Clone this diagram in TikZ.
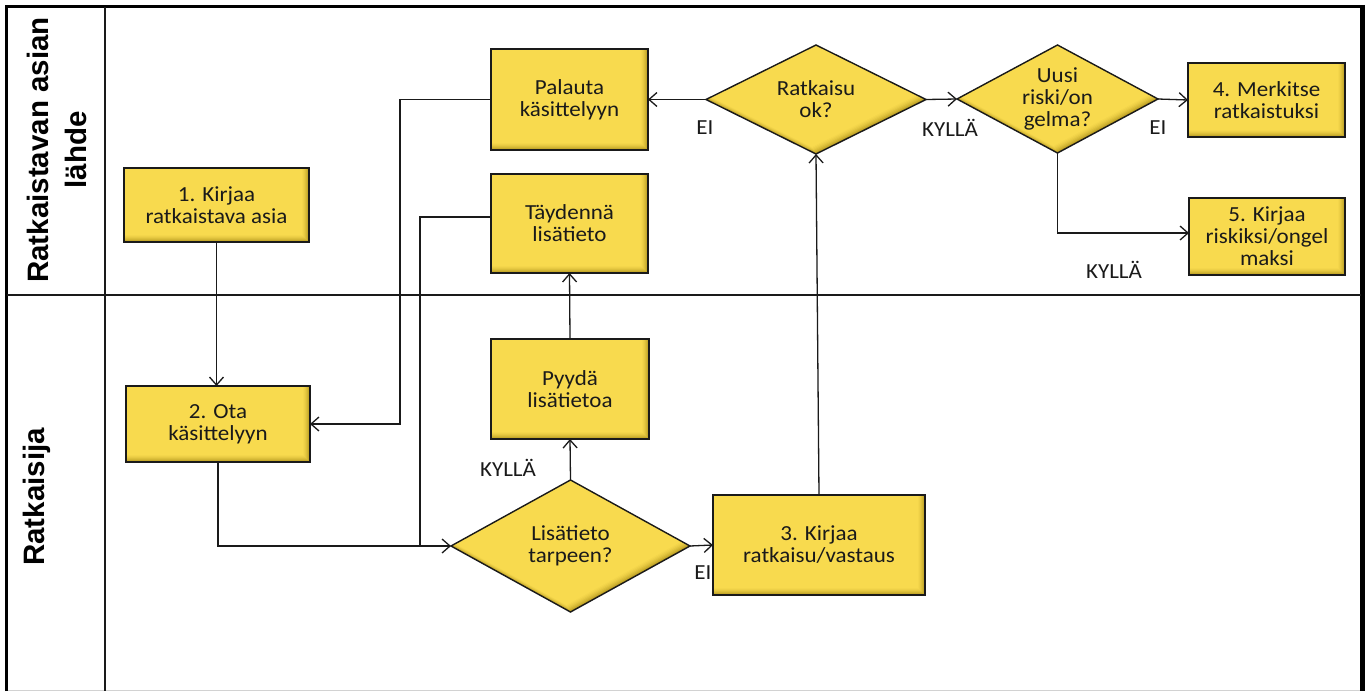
\documentclass[tikz,border=0pt]{standalone}
\usepackage{fontspec}
\usetikzlibrary{shapes.geometric,arrows.meta}
\newfontfamily\boxfont[FakeStretch=1.07]{Carlito}
\newfontfamily\lanefont{Liberation Sans}
\definecolor{boxyellow}{RGB}{248,218,78}
\definecolor{boxshade}{RGB}{176,148,28}
\definecolor{inkdark}{RGB}{26,26,26}

\tikzset{
  flowline/.style={line width=1.3pt, draw=inkdark},
  arrowline/.style={flowline, -{Straight Barb[length=8pt,width=14pt,line width=1.3pt]}},
  boxtext/.style={font=\boxfont\fontsize{21.5pt}{22pt}\selectfont, text=inkdark, align=center},
  lbl/.style={font=\boxfont\fontsize{21.5pt}{22pt}\selectfont, text=inkdark, inner sep=0pt},
  lanelbl/.style={font=\lanefont\bfseries\fontsize{29.5pt}{38pt}\selectfont, text=black, align=center, rotate=90, inner sep=0pt},
  % rectangle step with a soft inner shadow on its right and bottom edges
  stepbox/.style={
    boxtext, shape=rectangle, draw=inkdark, line width=1.4pt, fill=boxshade,
    inner sep=0pt, outer sep=0pt,
    path picture={
      \foreach \k/\m in {1/30,2/48,3/63,4/76,5/86,6/94,7/100}{
        \fill[boxyellow!\m!boxshade]
          ([yshift=\k pt]path picture bounding box.south west) rectangle
          ([xshift=-\k pt]path picture bounding box.north east);
      }
    }
  },
  % decision diamond with the same shading along its lower edges
  decision/.style={
    boxtext, shape=diamond, draw=inkdark, line width=1.4pt, fill=boxshade,
    inner sep=0pt, outer sep=0pt,
    path picture={
      \foreach \k/\m in {1/30,2/48,3/63,4/76,5/86,6/94,7/100}{
        \fill[boxyellow!\m!boxshade]
          ([xshift=-0.6*\k pt,yshift=\k pt]path picture bounding box.north) --
          ([xshift=-0.6*\k pt,yshift=\k pt]path picture bounding box.east) --
          ([xshift=-0.6*\k pt,yshift=\k pt]path picture bounding box.south) --
          ([xshift=-0.6*\k pt,yshift=\k pt]path picture bounding box.west) -- cycle;
      }
    }
  }
}

\begin{document}
\begin{tikzpicture}[x=1pt,y=-1pt]
\useasboundingbox (0,0) rectangle (1368,691);
\fill[white] (0,0) rectangle (1368,691);

% swimlane frame
\draw[gray!35, line width=1pt] (7,690) -- (1362,690);
\draw[black, line width=3pt] (6.5,691) -- (6.5,6.5) -- (1362,6.5);
\draw[black, line width=4.5pt] (1362.5,4.75) -- (1362.5,691);
\draw[inkdark, line width=1.5pt] (105,7) -- (105,691);
\draw[inkdark, line width=1.3pt] (7,295) -- (1361,295);

% lane titles
\node[lanelbl] (lane1) at (57,150) {Ratkaistavan asian\\lähde};
\node[lanelbl] (lane2) at (37,497) {Ratkaisija};

% steps
\node[stepbox, minimum width=185pt, minimum height=74pt] (b1) at (216.5,205) {1. Kirjaa\\ratkaistava asia};
\node[stepbox, minimum width=184pt, minimum height=76pt] (b2) at (218,424) {2. Ota\\käsittelyyn};
\node[stepbox, minimum width=157pt, minimum height=101pt] (pal) at (569.5,99.5) {Palauta\\käsittelyyn};
\node[stepbox, minimum width=157pt, minimum height=99pt] (tay) at (569.5,223.5) {Täydennä\\lisätieto};
\node[stepbox, minimum width=158pt, minimum height=100pt] (pyy) at (570,389) {Pyydä\\lisätietoa};
\node[stepbox, minimum width=212pt, minimum height=100pt] (b3) at (819,545) {3. Kirjaa\\ratkaisu/vastaus};
\node[stepbox, minimum width=157pt, minimum height=74pt] (b4) at (1266.5,100) {4. Merkitse\\ratkaistuksi};
\node[stepbox, minimum width=156pt, minimum height=77pt] (b5) at (1267,236.5) {5. Kirjaa\\riskiksi/ongel\\maksi};

% decisions
\node[decision, aspect=1.81, minimum width=239pt, minimum height=132pt] (d1) at (570.5,546) {Lisätieto\\tarpeen?};
\node[decision, aspect=2.02, minimum width=220pt, minimum height=109pt] (d2) at (816,99.5) {Ratkaisu\\ok?};
\node[decision, aspect=1.86, minimum width=201pt, minimum height=108pt] (d3) at (1057.5,99) {Uusi\\riski/on\\gelma?};

% branch labels
\node[lbl] (eiA) at (705,128) {EI};
\node[lbl] (kyA) at (950,128) {KYLLÄ};
\node[lbl] (eiB) at (1158,128) {EI};
\node[lbl] (kyB) at (1114,270) {KYLLÄ};
\node[lbl] (kyC) at (508,468) {KYLLÄ};
\node[lbl] (eiC) at (703,573) {EI};

% junction points of the routed connectors
\coordinate (jA) at (400,300);
\coordinate (jB) at (420,546);

% connectors
\draw[arrowline] (b1.south) -- (b1.south |- b2.north);
\draw[arrowline] (b2.south) |- (d1.west);
\draw[flowline] ([yshift=6.5pt]tay.west) -| (jB);
\draw[arrowline] (pal.west) -| (jA) |- (b2.east);
\draw[arrowline] (pyy.north) -- (tay.south);
\draw[arrowline] (d1.north) -- (pyy.south);
\draw[arrowline] (d1.east) -- (b3.west);
\draw[arrowline] (b3.north) -- (d2.south);
\draw[arrowline] (d2.west) -- (pal.east);
\draw[arrowline] (d2.east) -- (d3.west);
\draw[arrowline] (d3.east) -- (b4.west);
\draw[arrowline] (d3.south) |- ([yshift=3.5pt]b5.west);
\end{tikzpicture}
\end{document}
